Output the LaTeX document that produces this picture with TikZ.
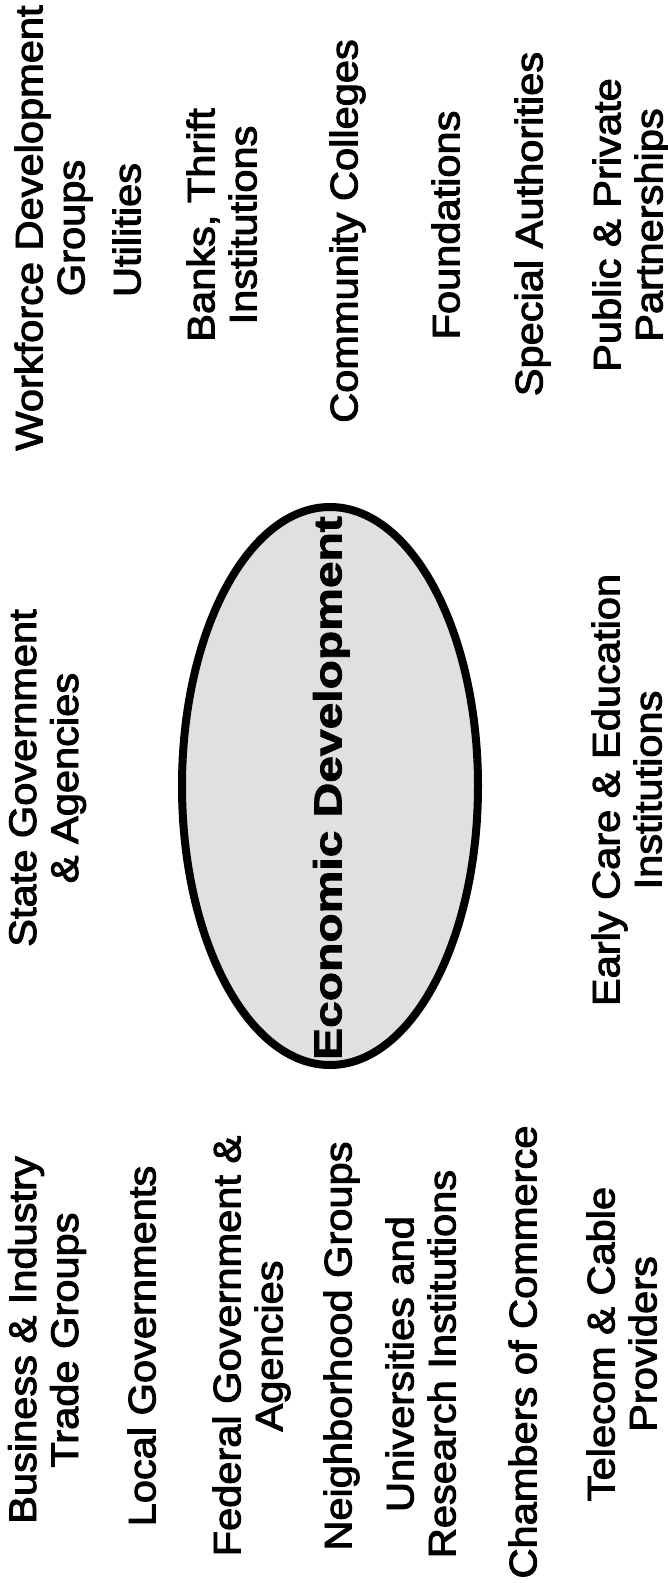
\documentclass[tikz,border=0pt]{standalone}
\usepackage{fontspec}
\setmainfont{Liberation Sans}
\newfontfamily\lblfont{Liberation Sans}[FakeBold=2.5]
\newfontfamily\hubfont{Liberation Sans}[UprightFont={* Bold}, FakeBold=2]
\usepackage{graphicx}
\usetikzlibrary{shapes.geometric}
\newcommand\lbltext[1]{\scalebox{1.083}[1]{\begin{tabular}{@{}c@{}}#1\end{tabular}}}
\newcommand\centertext[1]{\scalebox{1.23}[1]{\begin{tabular}{@{}c@{}}#1\end{tabular}}}
\tikzset{
  lbl/.style={rotate=90, inner sep=0pt, outer sep=0pt, text=black,
    font=\lblfont\fontsize{38.4}{42}\selectfont},
  hub/.style={ellipse, draw=black, line width=8pt, fill=black!12,
    minimum width=296pt, minimum height=558pt, inner sep=0pt},
  hubtext/.style={rotate=90, inner sep=0pt, text=black,
    font=\hubfont\fontsize{39}{42}\selectfont}
}
\begin{document}
\begin{tikzpicture}[x=1pt,y=-1pt]
\useasboundingbox (0,0) rectangle (668,1583);
% centre
\node[hub] (ell) at (330,786) {};
\node[hubtext] (ed) at (333,788) {\centertext{Economic Development}};
\node[lbl] (state) at (48.6,778) {\lbltext{State Government\\\& Agencies}};
\node[lbl] (early) at (632,790) {\lbltext{Early Care \& Education\\Institutions}};
% left column (bottom)
\node[lbl] (biz) at (48.6,1340) {\lbltext{Business \& Industry\\Trade Groups}};
\node[lbl] (local) at (147,1346) {\lbltext{Local Governments}};
\node[lbl] (fed) at (253,1346) {\lbltext{Federal Government \&\\Agencies}};
\node[lbl] (neigh) at (343,1346) {\lbltext{Neighborhood Groups}};
\node[lbl] (univ) at (426,1364) {\lbltext{Universities and\\Research Institutions}};
\node[lbl] (cham) at (528,1352) {\lbltext{Chambers of Commerce}};
\node[lbl] (tele) at (627,1344) {\lbltext{Telecom \& Cable\\Providers}};
% right column (top)
\node[lbl] (work) at (55,228) {\lbltext{Workforce Development\\Groups}};
\node[lbl] (util) at (132,230) {\lbltext{Utilities}};
\node[lbl] (bank) at (227,225) {\lbltext{Banks, Thrift\\Institutions}};
\node[lbl] (comm) at (349,231) {\lbltext{Community Colleges}};
\node[lbl] (found) at (451,225) {\lbltext{Foundations}};
\node[lbl] (spec) at (534,224) {\lbltext{Special Authorities}};
\node[lbl] (pub) at (633,225) {\lbltext{Public \& Private\\Partnerships}};
\end{tikzpicture}
\end{document}
